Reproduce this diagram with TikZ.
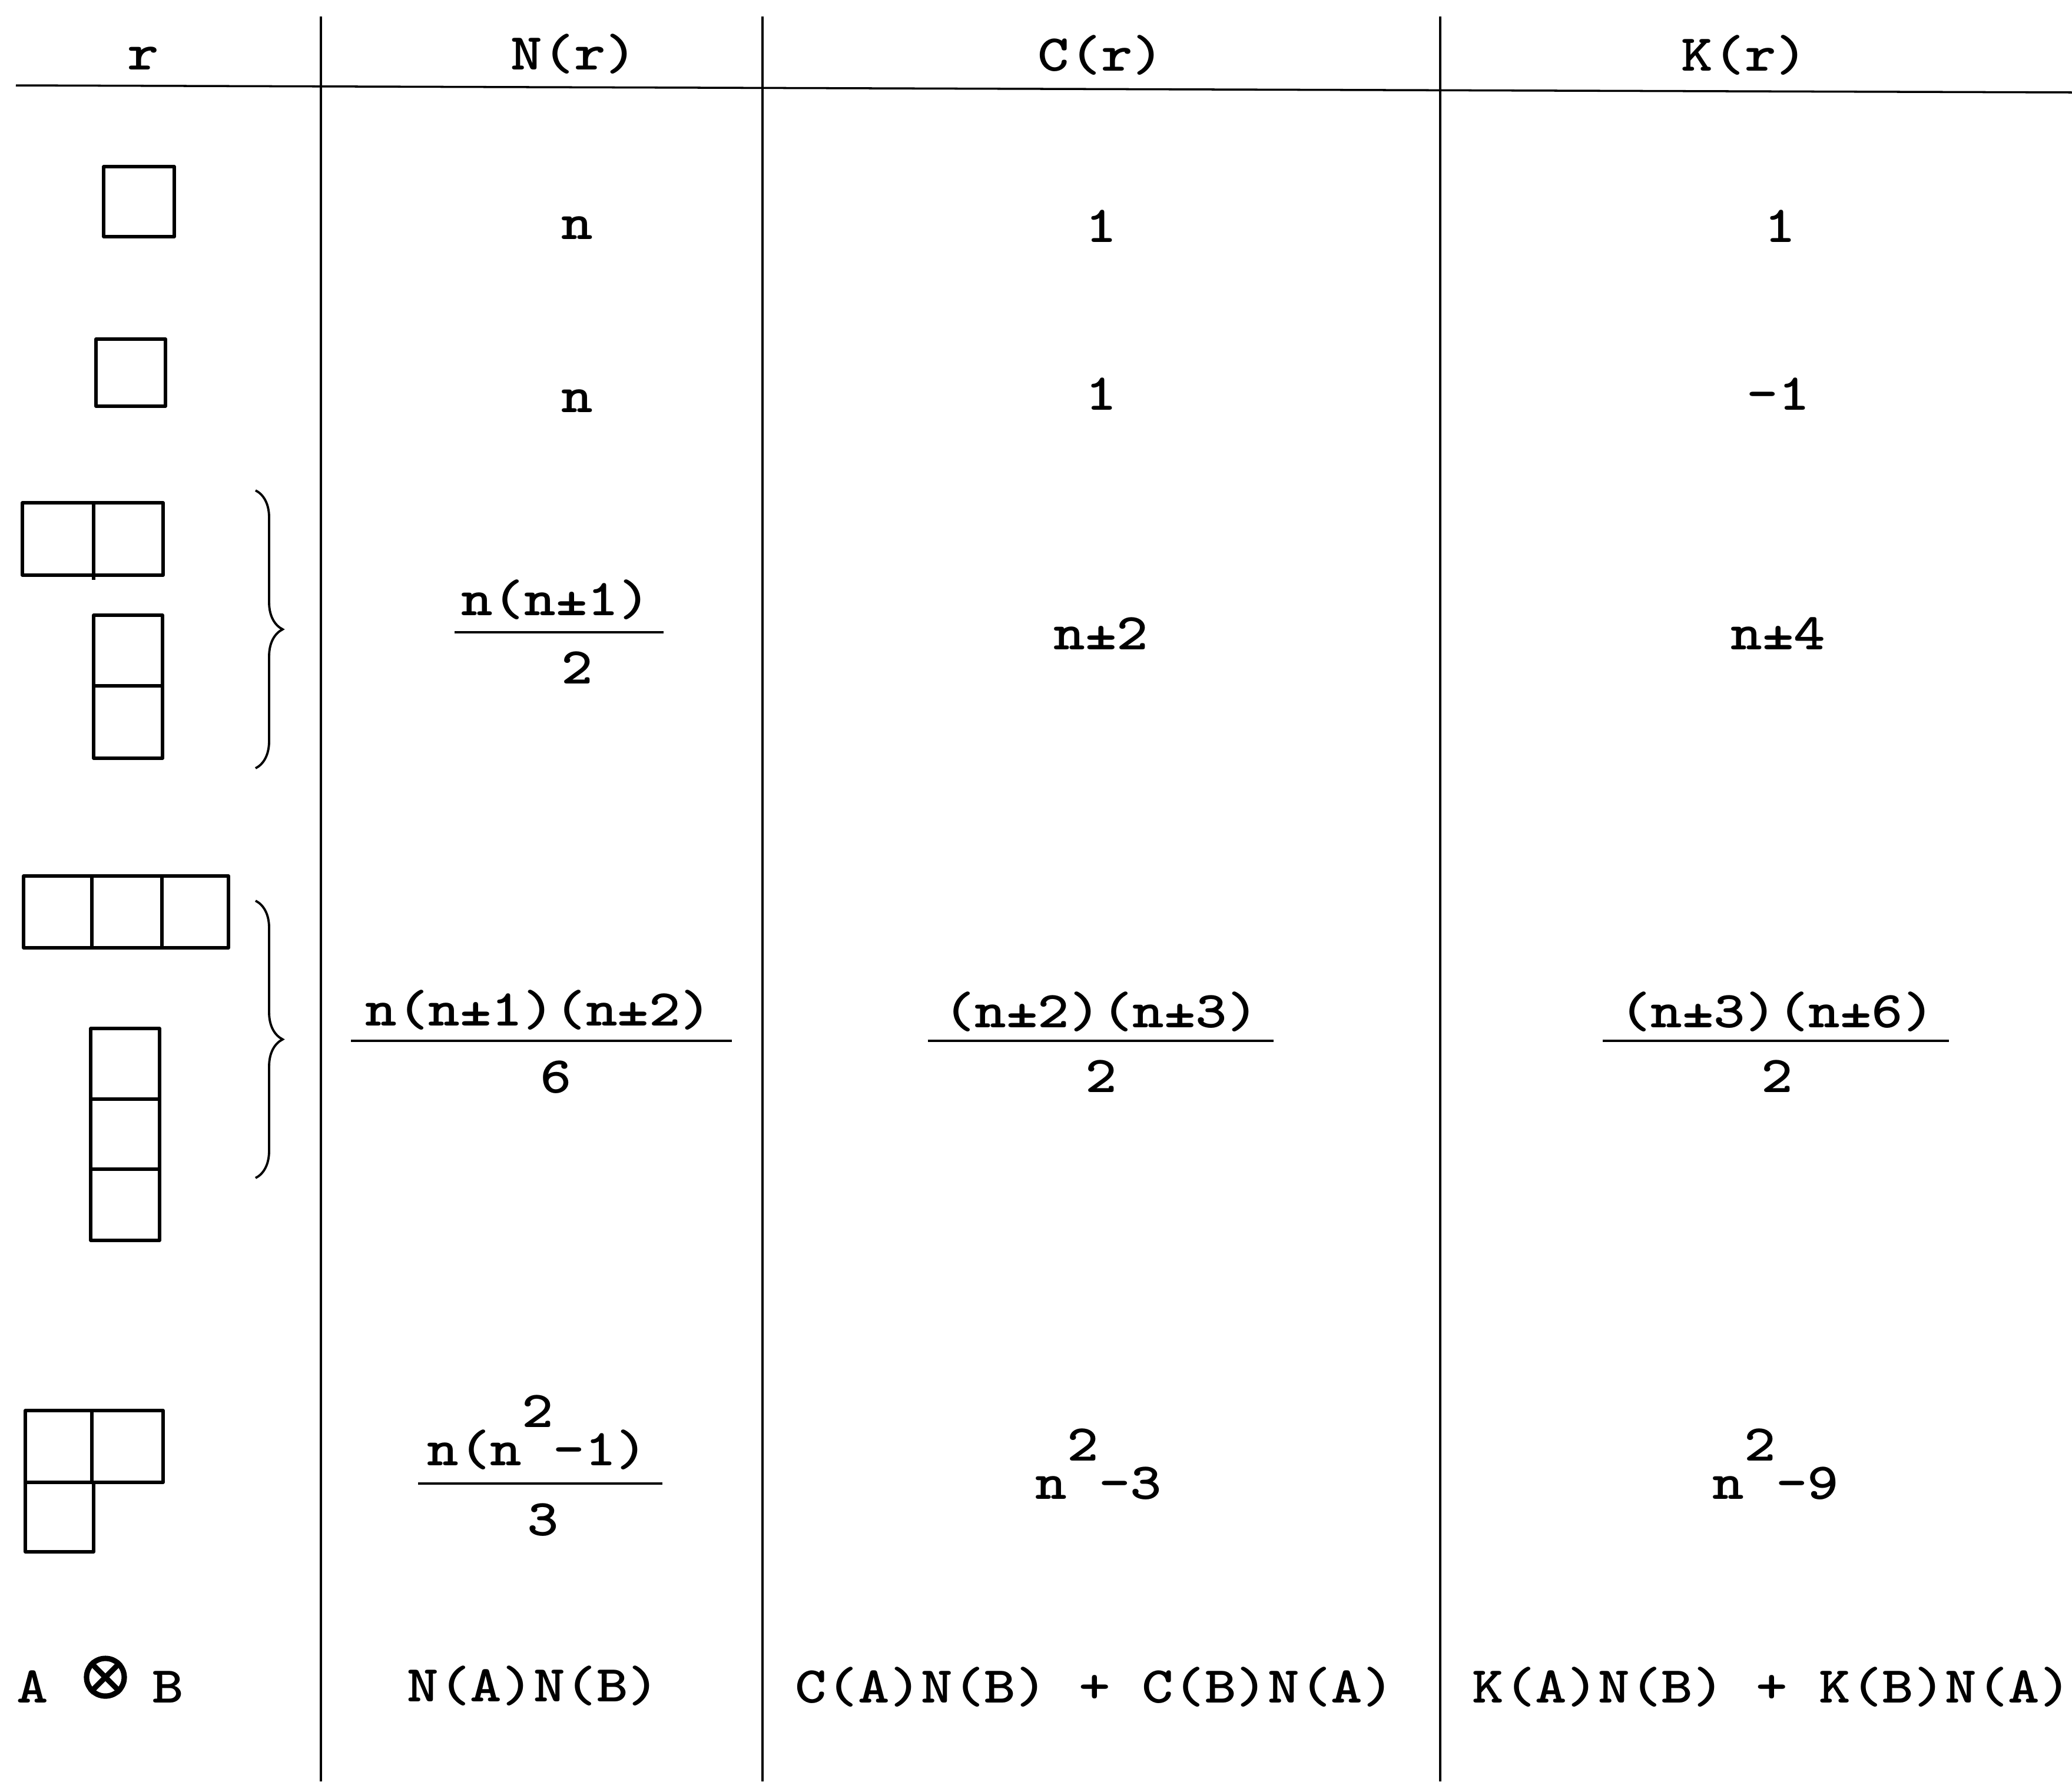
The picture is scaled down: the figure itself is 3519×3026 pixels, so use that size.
\documentclass[tikz,border=0pt]{standalone}
\usepackage{fontspec}
\usetikzlibrary{decorations.pathreplacing}
\newcommand{\T}[1]{\scalebox{1.16}[1]{#1}}
\newcommand{\sq}{\raisebox{0.65cm}{2}}
\begin{document}
\begin{tikzpicture}[x=0.01cm,y=-0.01cm,
  rule/.style={line width=1pt},
  cell/.style={line width=1.6pt, line join=round},
  txt/.style={font=\ttfamily\bfseries\fontsize{25}{30}\selectfont, inner sep=0pt, anchor=base},
  fracbar/.style={line width=1.1pt},
  bracepath/.style={decorate, decoration={brace, amplitude=0.46cm}, line width=1.1pt}]
\useasboundingbox (0,0) rectangle (3519,3026);
\fill[white] (0,0) rectangle (3519,3026);

% table rules
\draw[rule] (27,145) -- (3519,157);
\draw[rule] (545,28) -- (545,3026);
\draw[rule] (1295,28) -- (1295,3026);
\draw[rule] (2446,28) -- (2446,3026);

% header
\node[txt] (hr) at (243,118) {\T{r}};
\node[txt] (hn) at (975,118) {\T{N(r)}};
\node[txt] (hc) at (1870,120) {\T{C(r)}};
\node[txt] (hk) at (2963,120) {\T{K(r)}};

% row 1
\draw[cell] (176,283) rectangle (296,402);
\node[txt] (n1) at (980,406) {\T{n}};
\node[txt] (c1) at (1870,411) {\T{1}};
\node[txt] (k1) at (3023,411) {\T{1}};

% row 2
\draw[cell] (163,576) rectangle (281,690);
\node[txt] (n2) at (980,700) {\T{n}};
\node[txt] (c2) at (1870,696) {\T{1}};
\node[txt] (k2) at (3020,696) {\T{-1}};

% row 3
\draw[cell] (38,854) rectangle (277,977);
\draw[cell] (159,854) -- (159,985);
\draw[cell] (159,1045) rectangle (276,1288);
\draw[cell] (159,1165) -- (276,1165);
\draw[bracepath] (434,833) -- (434,1305);
\node[txt] (n3a) at (944,1045) {\T{n(n±1)}};
\coordinate (b3l) at (772,1074);
\coordinate (b3r) at (1127,1074);
\draw[fracbar] (b3l) -- (b3r);
\node[txt] (n3b) at (980,1161) {\T{2}};
\node[txt] (c3) at (1870,1103) {\T{n±2}};
\node[txt] (k3) at (3020,1103) {\T{n±4}};

% row 4
\draw[cell] (40,1488) rectangle (388,1610);
\draw[cell] (156,1488) -- (156,1610);
\draw[cell] (275,1488) -- (275,1610);
\draw[cell] (154,1747) rectangle (271,2107);
\draw[cell] (154,1867) -- (271,1867);
\draw[cell] (154,1986) -- (271,1986);
\draw[bracepath] (434,1530) -- (434,2001);
\node[txt] (n4a) at (915,1742) {\T{n(n±1)(n±2)}};
\coordinate (b4l) at (596,1768);
\coordinate (b4r) at (1243,1768);
\draw[fracbar] (b4l) -- (b4r);
\node[txt] (n4b) at (944,1856) {\T{6}};
\node[txt] (c4a) at (1870,1745) {\T{(n±2)(n±3)}};
\coordinate (cb4l) at (1576,1768);
\coordinate (cb4r) at (2163,1768);
\draw[fracbar] (cb4l) -- (cb4r);
\node[txt] (c4b) at (1870,1855) {\T{2}};
\node[txt] (k4a) at (3018,1745) {\T{(n±3)(n±6)}};
\coordinate (kb4l) at (2722,1768);
\coordinate (kb4r) at (3310,1768);
\draw[fracbar] (kb4l) -- (kb4r);
\node[txt] (k4b) at (3018,1855) {\T{2}};

% row 5
\draw[cell] (43,2396) -- (277,2396) -- (277,2518) -- (159,2518) -- (159,2636) -- (43,2636) -- cycle;
\draw[cell] (43,2518) -- (159,2518);
\draw[cell] (156,2396) -- (156,2518);
\node[txt] (n5a) at (913,2489) {\T{n(n\sq-1)}};
\coordinate (b5l) at (710,2520);
\coordinate (b5r) at (1125,2520);
\draw[fracbar] (b5l) -- (b5r);
\node[txt] (n5b) at (922,2608) {\T{3}};
\node[txt] (c5) at (1866,2546) {\T{n\sq-3}};
\node[txt] (k5) at (3016,2546) {\T{n\sq-9}};

% row 6
\node[txt] (ra) at (55,2892) {\T{A}};
\node[circle, draw, line width=2.6pt, minimum size=0.64cm, inner sep=0pt] (ot) at (179,2849) {};
\draw[line width=2.6pt] (ot.north west) -- (ot.south east);
\draw[line width=2.6pt] (ot.north east) -- (ot.south west);
\node[txt] (rb) at (285,2892) {\T{B}};
\node[txt] (n6) at (906,2890) {\T{N(A)N(B)}};
\node[txt] (c6) at (1859,2892) {\T{C(A)N(B) + C(B)N(A)}};
\node[txt, anchor=base west] (k6) at (2500,2892) {\T{K(A)N(B) + K(B)N(A)}};
\end{tikzpicture}
\end{document}
